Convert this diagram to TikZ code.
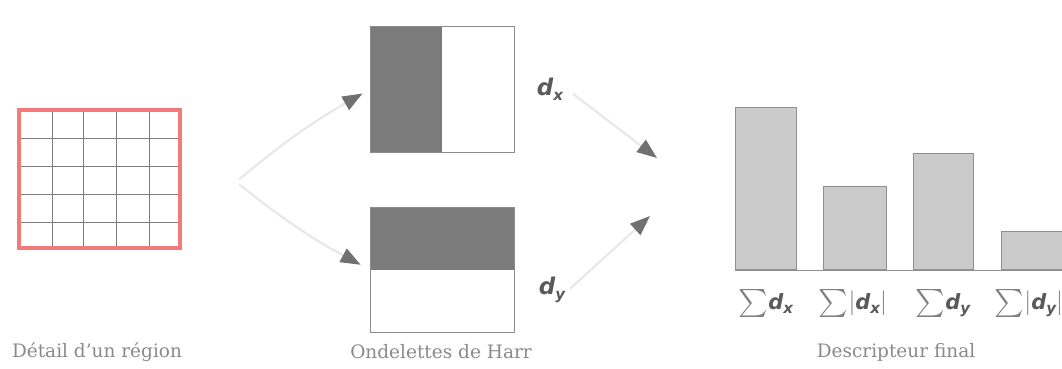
\documentclass[tikz,border=0pt]{standalone}
\usepackage{amsmath}
\usepackage{amssymb}
\usepackage{fontspec}
\usepackage{tikz}
\usepackage{xcolor}
\usetikzlibrary{arrows.meta}
\setmainfont{DejaVu Serif}
\newfontfamily\symbfont{DejaVu Sans}
\definecolor{captiongray}{HTML}{8A8A8A}
\definecolor{dgray}{HTML}{5A5A5A}
\definecolor{sumgray}{HTML}{808080}
\definecolor{regionred}{HTML}{F27A7A}
\definecolor{gridgray}{HTML}{7D7D7D}
\definecolor{haardark}{HTML}{7B7B7B}
\definecolor{boxgray}{HTML}{8C8C8C}
\definecolor{barfill}{HTML}{CBCBCB}
\definecolor{bargray}{HTML}{8F8F8F}
\definecolor{flowgray}{HTML}{E8E8E8}
\definecolor{tipgray}{HTML}{707070}
\newcommand{\dsym}[1]{{\symbfont\bfseries\itshape d}\raisebox{-0.4ex}{\symbfont\bfseries\itshape\fontsize{15}{15}\selectfont #1}}
\newcommand{\sumof}[1]{\textcolor{sumgray}{\fontsize{28}{28}\selectfont$\sum$}#1}
\newcommand{\absof}[1]{\textcolor{sumgray}{\fontsize{25}{25}\selectfont$|$}#1\textcolor{sumgray}{\fontsize{25}{25}\selectfont$|$}}

\begin{document}
\begin{tikzpicture}[x=1pt, y=-1pt,
  haarbox/.style={draw=boxgray, line width=1pt, minimum width=144pt, minimum height=125pt, inner sep=0pt},
  bar/.style={draw=bargray, fill=barfill, line width=1pt, minimum width=61pt, inner sep=0pt, anchor=south west},
  flow/.style={draw=flowgray, line width=2.2pt, -{Triangle[length=20pt,width=15pt,color=tipgray]}},
  caption/.style={font=\fontsize{18.5}{22}\selectfont, text=captiongray},
  dlabel/.style={font=\fontsize{23}{26}\selectfont, text=dgray},
  sumlabel/.style={font=\fontsize{21}{24}\selectfont, text=dgray, inner sep=0pt}]
  \useasboundingbox (0,0) rectangle (1062,369);

  \foreach \gx in {52,83,116,149} \draw[gridgray, line width=1pt] (\gx,110) -- (\gx,248);
  \foreach \gy in {138,166,194,222} \draw[gridgray, line width=1pt] (19,\gy) -- (180,\gy);
  \node[draw=regionred, line width=4pt, minimum width=161pt, minimum height=138pt, inner sep=0pt] (region) at (99.5,179) {};

  \node[haarbox, path picture={\fill[haardark] (path picture bounding box.south west) rectangle (path picture bounding box.north);}] (haarx) at (442,89.5) {};
  \node[haarbox, path picture={\fill[haardark] (path picture bounding box.west) rectangle (path picture bounding box.north east);}] (haary) at (442,269.5) {};
  \node[dlabel] (dx) at (550,89) {\dsym{x}};
  \node[dlabel] (dy) at (552,290) {\dsym{y}};

  \coordinate (fork) at (236,182);
  \coordinate (inx) at (657,158);
  \coordinate (iny) at (650,216);
  \draw[flow, shorten <=4pt, shorten >=8pt] (fork) to[bend left=5] (haarx.west);
  \draw[flow, shorten <=4pt, shorten >=10pt] (fork) to[bend right=5] (haary.west);
  \draw[flow, shorten <=8pt] (dx.east) -- (inx);
  \draw[flow, shorten <=2pt] (dy.east) -- (iny);

  \node[bar, minimum height=162pt] (b1) at (735,270) {};
  \node[bar, minimum height=83pt, minimum width=63pt] (b2) at (823,270) {};
  \node[bar, minimum height=116pt, minimum width=60pt] (b3) at (913,270) {};
  \node[bar, minimum height=38pt, minimum width=64pt] (b4) at (1001,270) {};
  \draw[bargray, line width=1pt] (735,270) -- (1070,270);
  \node[sumlabel] (s1) at (766,303) {\sumof{\dsym{x}}};
  \node[sumlabel] (s2) at (853,303) {\sumof{\absof{\dsym{x}}}};
  \node[sumlabel] (s3) at (943,303) {\sumof{\dsym{y}}};
  \node[sumlabel] (s4) at (1029,303) {\sumof{\absof{\dsym{y}}}};

  \node[caption] (capregion) at (97,352) {Détail d'un région};
  \node[caption] (caphaar) at (441,352) {Ondelettes de Harr};
  \node[caption] (capfinal) at (896,352) {Descripteur final};
\end{tikzpicture}
\end{document}
